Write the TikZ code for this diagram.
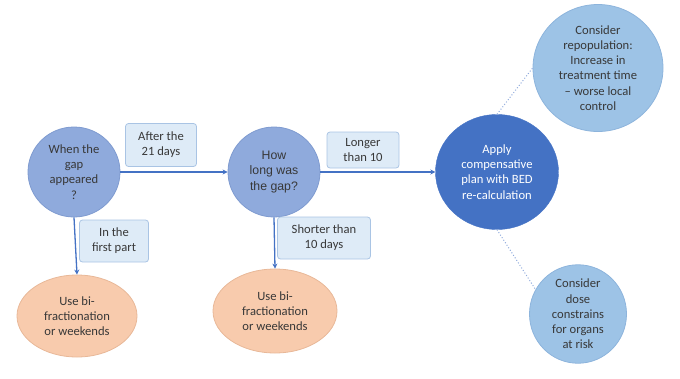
\documentclass[tikz,border=0pt]{standalone}
\usepackage{fontspec}
\setmainfont{Carlito}
\newfontfamily\arialfont{Liberation Sans}
\usetikzlibrary{arrows.meta,shapes.geometric}
\definecolor{midblue}{HTML}{8FAADC}
\definecolor{midblueb}{HTML}{7F9BD0}
\definecolor{darkblue}{HTML}{4472C4}
\definecolor{lightblue}{HTML}{9DC3E6}
\definecolor{lightblueb}{HTML}{8DB4DC}
\definecolor{orangefill}{HTML}{F8CBAD}
\definecolor{orangeb}{HTML}{E8B898}
\definecolor{boxfill}{HTML}{DEEBF7}
\definecolor{boxb}{HTML}{A9C4E4}
\definecolor{txt}{HTML}{383838}
\tikzset{
  base/.style={ellipse, inner sep=0pt, align=center, text=txt, font=\fontsize{12.6}{15.2}\selectfont},
  q/.style={base, fill=midblue, draw=midblueb, line width=0.8pt},
  main/.style={base, fill=darkblue, draw=darkblue, text=white},
  info/.style={base, fill=lightblue, draw=lightblueb, line width=0.8pt},
  act/.style={base, fill=orangefill, draw=orangeb, line width=0.8pt},
  lab/.style={rectangle, rounded corners=3pt, fill=boxfill, draw=boxb, line width=0.8pt, align=center, text=txt, inner sep=0pt, font=\fontsize{12.6}{15.2}\selectfont},
  arr/.style={draw=darkblue, line width=1.3pt, -{Stealth[length=5pt,width=5pt]}},
  dot/.style={draw=darkblue!60, line width=1pt, dotted}
}
\begin{document}
\begin{tikzpicture}[x=1pt,y=-1pt]
\useasboundingbox (0,0) rectangle (680,378);
\node[q, minimum width=92pt, minimum height=90pt] (n1) at (74,172) {When the\\gap\\appeared\\?};
\node[q, minimum width=92pt, minimum height=90pt, font=\arialfont\fontsize{12.3}{15.5}\selectfont] (n2) at (274,172) {How\\long was\\the gap?};
\node[main, minimum width=123pt, minimum height=115pt] (n3) at (497,172) {Apply\\compensative\\plan with BED\\re-calculation};
\node[info, minimum width=130pt, minimum height=127pt] (t1) at (598,68) {Consider\\repopulation:\\Increase in\\treatment time\\– worse local\\control};
\node[info, minimum width=97pt, minimum height=98pt] (t2) at (578,314) {Consider\\dose\\constrains\\for organs\\at risk};
\node[act, minimum width=120pt, minimum height=82pt] (o1) at (77,316) {Use bi-\\fractionation\\or weekends};
\node[act, minimum width=124pt, minimum height=84pt] (o2) at (275,311) {Use bi-\\fractionation\\or weekends};
\node[lab, minimum width=71pt, minimum height=43pt] (l1) at (161,145) {After the\\21 days};
\node[lab, minimum width=69pt, minimum height=42pt] (l2) at (114,241) {In the\\first part};
\node[lab, minimum width=72pt, minimum height=36pt] (l3) at (363,150) {Longer\\than 10};
\node[lab, minimum width=93pt, minimum height=42pt] (l4) at (324,238) {Shorter than\\10 days};
\draw[arr] (n1.east) -- (n2.west);
\draw[arr] (n2.east) -- (n3.west);
\draw[arr] (n1.south) -- (o1.north);
\draw[arr] (n2.south) -- (o2.north);
\draw[dot] (n3.north) -- (t1.west);
\draw[dot] (n3.south) -- (t2.150);
\end{tikzpicture}
\end{document}
